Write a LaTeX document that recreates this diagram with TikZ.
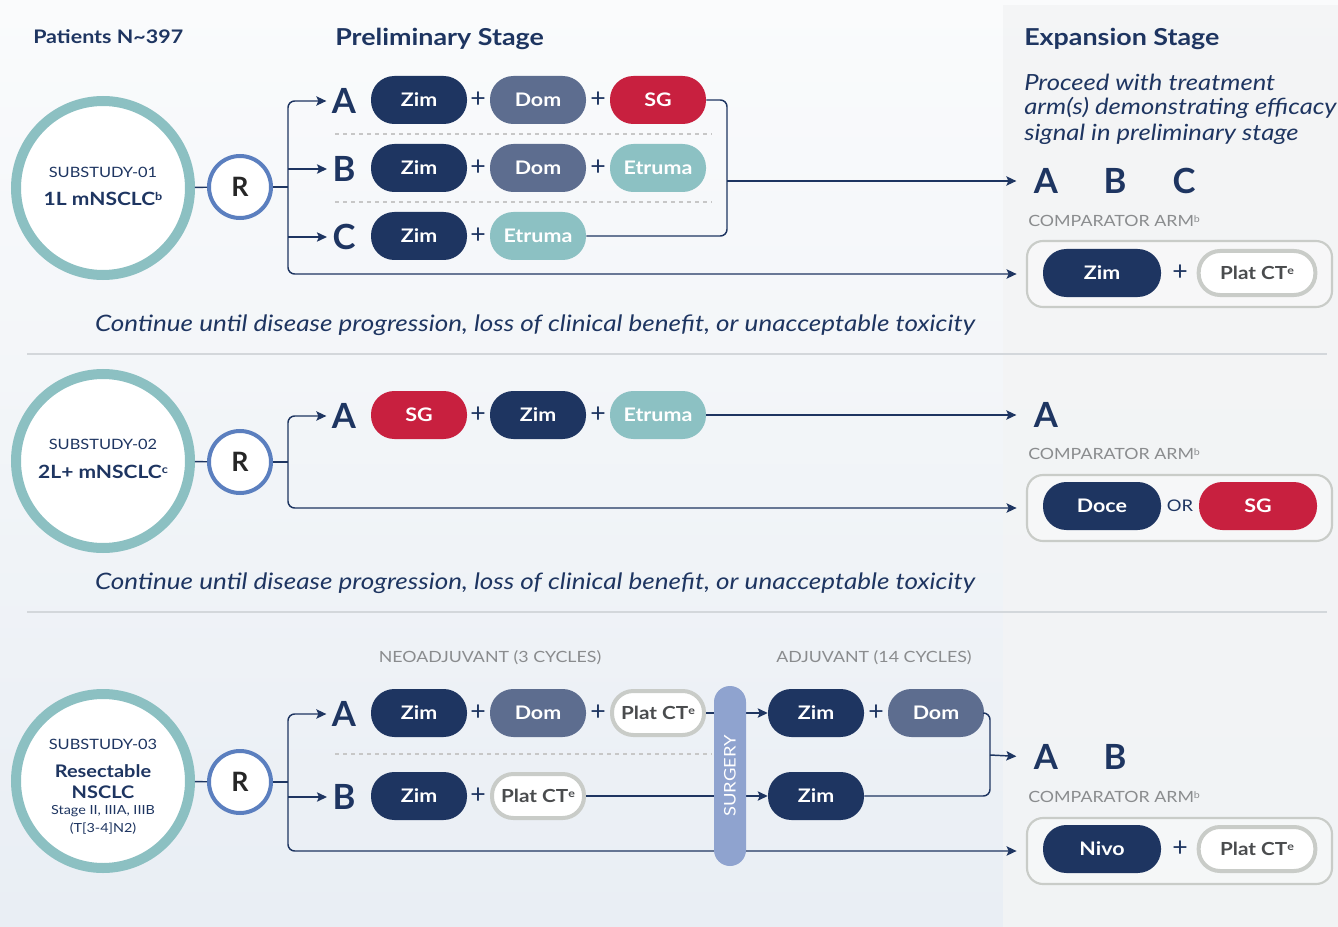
\documentclass[tikz,border=0pt]{standalone}
\usepackage{fontspec}
\setmainfont{Lato}[FakeStretch=1.15]
\newfontfamily\plainlato{Lato}
\usetikzlibrary{arrows.meta}
\definecolor{navy}{HTML}{1E3561}
\definecolor{domc}{HTML}{5D6D8F}
\definecolor{sgc}{HTML}{C8203F}
\definecolor{etc}{HTML}{8CC1C3}
\definecolor{ringc}{HTML}{8CC0C2}
\definecolor{rc}{HTML}{5B7FBF}
\definecolor{grayt}{HTML}{8A8C8E}
\definecolor{platb}{HTML}{C9CCC8}
\definecolor{platt}{HTML}{4A4C4E}
\definecolor{surg}{HTML}{8FA3CF}
\definecolor{sepc}{HTML}{D3D7DB}
\definecolor{bgtop}{HTML}{FAFBFC}
\definecolor{bgbot}{HTML}{E9EEF4}
\definecolor{panel}{HTML}{F3F4F5}
\newcommand{\sz}[1]{\fontsize{#1}{#1}\selectfont}
\newcommand{\sups}[1]{\raisebox{0.55ex}{\scalebox{0.6}{#1}}}
\begin{document}
\begin{tikzpicture}[x=0.75pt,y=-0.75pt,
  pill/.style={rectangle, rounded corners=17.5pt, minimum width=72pt, minimum height=36pt, inner sep=0pt, text=white, font=\sz{14}\bfseries},
  zim/.style={pill, fill=navy},
  dom/.style={pill, fill=domc},
  sg/.style={pill, fill=sgc},
  etr/.style={pill, fill=etc},
  plat/.style={pill, fill=white, draw=platb, line width=3pt, minimum width=69pt, minimum height=33pt, rounded corners=16pt, text=platt, font=\sz{13.5}\bfseries},
  wide/.style={minimum width=88.5pt},
  widep/.style={minimum width=87.5pt},
  plus/.style={text=navy, font=\plainlato\sz{20}, inner sep=0pt},
  letter/.style={text=navy, font=\plainlato\sz{26}\bfseries, inner sep=3pt},
  big/.style={circle, fill=white, draw=ringc, line width=7.5pt, minimum size=130.5pt},
  rnode/.style={circle, fill=white, draw=rc, line width=3pt, minimum size=46.5pt, font=\plainlato\sz{20}\bfseries, text=black!85},
  conn/.style={draw=navy, line width=1.1pt},
  arr/.style={conn, -{Stealth[length=7.5pt,width=7pt,inset=1.5pt]}},
  arr2/.style={conn, {Stealth[length=7.5pt,width=7pt,inset=1.5pt]}-{Stealth[length=7.5pt,width=7pt,inset=1.5pt]}},
  dashln/.style={draw=black!22, line width=0.8pt, dash pattern=on 3pt off 3pt},
  sepline/.style={draw=sepc, line width=0.9pt},
  cbox/.style={rectangle, draw=platb, line width=1.6pt, rounded corners=12pt, minimum width=228.75pt, minimum height=49.5pt, fill=white, fill opacity=0.35, text opacity=1},
  cmp/.style={text=grayt, font=\sz{11.6}, inner sep=0pt, anchor=west},
  subt/.style={text=navy, font=\sz{10.7}, inner sep=0pt},
  subb/.style={text=navy, font=\sz{13.7}\bfseries, inner sep=0pt},
  cont/.style={text=navy, font=\sz{17}\itshape, inner sep=0pt},
  expt/.style={text=navy, font=\sz{16.7}\itshape, inner sep=0pt, anchor=west},
  head/.style={text=navy, font=\sz{17.5}\bfseries, inner sep=0pt, anchor=west},
]
% background
\shade[top color=bgtop, bottom color=bgbot] (0,0) rectangle (1338,927);
\fill[panel, opacity=0.85] (1003,5) rectangle (1338,927);
\useasboundingbox (0,0) rectangle (1338,927);

\draw[sepline] (27,354) -- (1327,354);
\draw[sepline] (27,612) -- (1327,612);

% headings
\node[head, font=\sz{14}\bfseries] (pat) at (33,37) {Patients N\textasciitilde397};
\node[head] (prel) at (335,39) {Preliminary Stage};
\node[head] (expn) at (1024,39) {Expansion Stage};
\node[expt] (ex1) at (1024,82) {Proceed with treatment};
\node[expt] (ex2) at (1024,108) {arm(s) demonstrating efficacy};
\node[expt] (ex3) at (1024,134) {signal in preliminary stage};

%================ Section 1
\node[big] (c1) at (103,188) {};
\node[subt] (c1t) at (103,172) {SUBSTUDY-01};
\node[subb] (c1b) at (103,199) {1L mNSCLC\sups{b}};
\node[rnode] (r1) at (240,187) {R};
\coordinate (br1) at (288,187);
\draw[conn] (c1) -- (r1);
\draw[conn] (r1) -- (br1);

\node[letter] (l1a) at (344,101) {A};
\node[letter] (l1b) at (344,169) {B};
\node[letter] (l1c) at (344,237) {C};

\node[zim] (p1a1) at (419,100) {Zim};
\node[plus] (q1a1) at (478,100) {+};
\node[dom] (p1a2) at (538,100) {Dom};
\node[plus] (q1a2) at (598,100) {+};
\node[sg] (p1a3) at (658,100) {SG};

\node[zim] (p1b1) at (419,168) {Zim};
\node[plus] (q1b1) at (478,168) {+};
\node[dom] (p1b2) at (538,168) {Dom};
\node[plus] (q1b2) at (598,168) {+};
\node[etr] (p1b3) at (658,168) {Etruma};

\node[zim] (p1c1) at (419,236) {Zim};
\node[plus] (q1c1) at (478,236) {+};
\node[etr] (p1c2) at (538,236) {Etruma};

\draw[dashln] (335,134) -- (712,134);
\draw[dashln] (335,202) -- (712,202);

\node[letter] (e1a) at (1046,181) {A};
\node[letter] (e1b) at (1115,181) {B};
\node[letter] (e1c) at (1184,181) {C};
\node[cmp] (cmp1) at (1028,221) {COMPARATOR ARM\sups{b}};
\node[cbox] (cb1) at (1179.5,274) {};
\node[zim, wide] (z1) at (1102,273) {Zim};
\node[plus] (q1) at (1180,273) {+};
\node[plat, widep] (pl1) at (1257,273) {Plat CT\sups{e}};

\draw[arr2, rounded corners=5pt, shorten <=1pt, shorten >=7pt] (l1a.west) -| (br1) |- (cb1.west);
\draw[arr, shorten >=1pt] (br1 |- l1b) -- (l1b.west);
\draw[arr, shorten >=1pt] (br1 |- l1c) -- (l1c.west);
\coordinate (bk1) at (727,181);
\draw[conn, rounded corners=5pt] (p1a3.east) -| (bk1) |- (p1c2.east);
\draw[arr, shorten >=10pt] (bk1) -- (e1a.west);

\node[cont] (cont1) at (535,325) {Continue until disease progression, loss of clinical benefit, or unacceptable toxicity};

%================ Section 2
\node[big] (c2) at (103,461) {};
\node[subt] (c2t) at (103,444) {SUBSTUDY-02};
\node[subb] (c2b) at (103,472) {2L+ mNSCLC\sups{c}};
\node[rnode] (r2) at (240,462) {R};
\coordinate (br2) at (288,462);
\draw[conn] (c2) -- (r2);
\draw[conn] (r2) -- (br2);

\node[letter] (l2a) at (344,416) {A};
\node[sg] (p2a1) at (419,415) {SG};
\node[plus] (q2a1) at (478,415) {+};
\node[zim] (p2a2) at (538,415) {Zim};
\node[plus] (q2a2) at (598,415) {+};
\node[etr] (p2a3) at (658,415) {Etruma};

\node[letter] (e2a) at (1046,415) {A};
\node[cmp] (cmp2) at (1028,454) {COMPARATOR ARM\sups{b}};
\node[cbox] (cb2) at (1179.5,508) {};
\node[zim, wide] (z2) at (1102,506) {Doce};
\node[plus, font=\sz{12}] (or2) at (1180,506) {OR};
\node[sg, wide] (s2) at (1258,506) {SG};

\draw[arr2, rounded corners=5pt, shorten <=1pt, shorten >=7pt] (l2a.west) -| (br2) |- (cb2.west);
\draw[arr, shorten >=10pt] (p2a3.east) -- (e2a.west);

\node[cont] (cont2) at (535,583) {Continue until disease progression, loss of clinical benefit, or unacceptable toxicity};

%================ Section 3
\node[big] (c3) at (103,781) {};
\node[subt] (c3t) at (103,744) {SUBSTUDY-03};
\node[subb, font=\sz{13}\bfseries] (c3b) at (103,771) {Resectable};
\node[subb, font=\sz{13}\bfseries] (c3c) at (103,792) {NSCLC};
\node[subt, font=\sz{9.4}] (c3d) at (103,811) {Stage II, IIIA, IIIB};
\node[subt, font=\sz{9.4}] (c3e) at (103,829) {(T[3-4]N2)};
\node[rnode] (r3) at (240,782) {R};
\coordinate (br3) at (288,782);
\draw[conn] (c3) -- (r3);
\draw[conn] (r3) -- (br3);

\node[cmp, anchor=center] (neo) at (490,658) {NEOADJUVANT (3 CYCLES)};
\node[cmp, anchor=center] (adj) at (874,658) {ADJUVANT (14 CYCLES)};

\node[letter] (l3a) at (344,714) {A};
\node[letter] (l3b) at (344,797) {B};

\node[zim] (p3a1) at (419,713) {Zim};
\node[plus] (q3a1) at (478,713) {+};
\node[dom] (p3a2) at (538,713) {Dom};
\node[plus] (q3a2) at (598,713) {+};
\node[plat] (p3a3) at (658,713) {Plat CT\sups{e}};

\node[zim] (p3b1) at (419,796) {Zim};
\node[plus] (q3b1) at (478,796) {+};
\node[plat] (p3b2) at (538,796) {Plat CT\sups{e}};

\draw[dashln] (335,754) -- (712,754);

\node[zim] (j3a1) at (816,713) {Zim};
\node[plus] (k3a1) at (876,713) {+};
\node[dom] (j3a2) at (936,713) {Dom};
\node[zim] (j3b1) at (816,796) {Zim};

\node[letter] (e3a) at (1046,757) {A};
\node[letter] (e3b) at (1115,757) {B};
\node[cmp] (cmp3) at (1028,797) {COMPARATOR ARM\sups{b}};
\node[cbox] (cb3) at (1179.5,851) {};
\node[zim, wide] (z3) at (1102,849) {Nivo};
\node[plus] (q3) at (1180,849) {+};
\node[plat, widep] (pl3) at (1257,849) {Plat CT\sups{e}};

\draw[arr2, rounded corners=5pt, shorten <=1pt, shorten >=7pt] (l3a.west) -| (br3) |- (cb3.west);
\draw[arr, shorten >=1pt] (br3 |- l3b) -- (l3b.west);
\draw[arr] (p3a3.east) -- (j3a1.west);
\draw[arr] (p3b2.east) -- (j3b1.west);
\coordinate (bk3) at (990,755);
\draw[conn, rounded corners=5pt] (j3a2.east) -| (bk3) |- (j3b1.east);
\draw[arr, shorten >=10pt] (bk3) -- (e3a.west);

\node[rectangle, rounded corners=12pt, fill=surg, minimum width=135pt, minimum height=24pt, rotate=90, text=white, font=\sz{12}, inner sep=0pt] (surgery) at (730,776) {SURGERY};
\end{tikzpicture}
\end{document}
